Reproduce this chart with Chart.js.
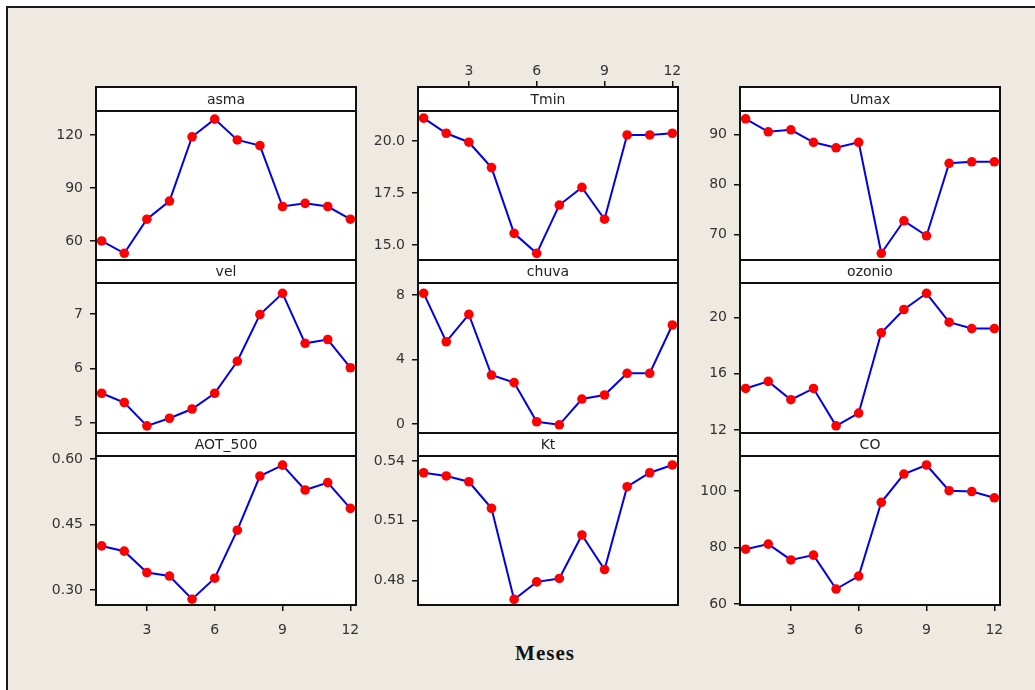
<!DOCTYPE html>
<html>
<head>
<meta charset="utf-8">
<title>Meses</title>
<script src="https://cdn.jsdelivr.net/npm/chart.js@4.4.1/dist/chart.umd.min.js"></script>
<style>
  html, body { margin: 0; padding: 0; background: #fff; }
  body { width: 1035px; height: 690px; position: relative; overflow: hidden; }
  #frame {
    position: absolute; left: 6px; top: 6px; width: 1040px; height: 700px;
    background: #eeeae1; border-left: 2px solid #1a1a1a; border-top: 2px solid #1a1a1a;
  }
  canvas.panel { position: absolute; }
  #xlabel {
    position: absolute; left: 445px; width: 200px; top: 641px; line-height: 24px;
    text-align: center; font: bold 21px "Liberation Serif", serif; letter-spacing: 1px; color: #111;
  }
</style>
</head>
<body>
<div id="frame"></div>
<div id="xlabel">Meses</div>
<script>
// data (monthly means)
const months = [1, 2, 3, 4, 5, 6, 7, 8, 9, 10, 11, 12];
const asma   = [60, 53, 72.3, 82.6, 119, 129, 117.2, 114, 79.5, 81.3, 79.5, 72.3];
const tmin   = [21.1, 20.37, 19.94, 18.72, 15.56, 14.6, 16.92, 17.77, 16.24, 20.29, 20.29, 20.37];
const umax   = [93.1, 90.5, 90.9, 88.4, 87.3, 88.4, 66.2, 72.7, 69.7, 84.2, 84.5, 84.5];
const vel    = [5.54, 5.37, 4.94, 5.08, 5.25, 5.54, 6.13, 6.99, 7.38, 6.46, 6.53, 6.01];
const chuva  = [8.12, 5.11, 6.81, 3.04, 2.57, 0.14, -0.05, 1.55, 1.8, 3.15, 3.15, 6.15];
const ozonio = [14.95, 15.45, 14.15, 14.95, 12.3, 13.2, 18.9, 20.55, 21.7, 19.65, 19.2, 19.2];
const aot500 = [0.401, 0.389, 0.340, 0.332, 0.279, 0.327, 0.437, 0.561, 0.586, 0.529, 0.546, 0.487];
const kt     = [0.5341, 0.5325, 0.5296, 0.5163, 0.4706, 0.4794, 0.4811, 0.5029, 0.4856, 0.5271, 0.5341, 0.538];
const co     = [79.4, 81.2, 75.6, 77.3, 65.3, 69.9, 96.0, 106.0, 109.2, 100.1, 99.8, 97.6];

const names  = ['asma', 'Tmin', 'Umax', 'vel', 'chuva', 'ozonio', 'AOT_500', 'Kt', 'CO'];
const series = [asma, tmin, umax, vel, chuva, ozonio, aot500, kt, co];

const xTicks = [3, 6, 9, 12];
const yTicks = [[60, 90, 120], [15, 17.5, 20], [70, 80, 90],
                [5, 6, 7], [0, 4, 8], [12, 16, 20],
                [0.30, 0.45, 0.60], [0.48, 0.51, 0.54], [60, 80, 100]];
const yDecimals = [0, 1, 0, 0, 0, 0, 2, 2, 0];
// value range of each plot area (top edge / bottom edge)
const yTop    = [133.6, 21.44, 94.66, 7.571, 8.76, 22.43, 0.6069, 0.5425, 112.39];
const yBottom = [49.2, 14.28, 64.86, 4.808, -0.56, 11.79, 0.2657, 0.4678, 59.65];

// where the month axis is shown (lattice style)
const xAxisSide = [null, 'top', null, null, null, null, 'bottom', null, 'bottom'];

// layout of the 3x3 lattice
const colLeft = [96, 418, 740];
const panelW = 260;
const rowTop = [87, 260, 433];
const stripH = [24, 23, 23];
const rowBottom = [260, 433, 605];
const marginL = 54, marginR = 6, marginV = 30;

const FONT = '"DejaVu Sans", Verdana, sans-serif';

const stripPlugin = {
    id: 'strip',
    beforeDraw(chart) {
        const a = chart.chartArea;
        const ctx = chart.ctx;
        ctx.save();
        ctx.fillStyle = '#fff';
        ctx.fillRect(a.left, a.top, a.width, a.height);
        ctx.restore();
    },
    afterDatasetsDraw(chart, args, opts) {
        const a = chart.chartArea;
        const ctx = chart.ctx;
        ctx.save();
        ctx.fillStyle = '#fff';
        ctx.fillRect(a.left, a.top, a.width, opts.height);
        ctx.strokeStyle = '#111';
        ctx.lineWidth = 2;
        ctx.strokeRect(a.left, a.top, a.width, a.height);
        ctx.beginPath();
        ctx.moveTo(a.left, a.top + opts.height);
        ctx.lineTo(a.right, a.top + opts.height);
        ctx.stroke();
        ctx.fillStyle = '#222';
        ctx.font = '14px ' + FONT;
        ctx.textAlign = 'center';
        ctx.textBaseline = 'middle';
        ctx.fillText(opts.title, (a.left + a.right) / 2, a.top + opts.height / 2 + 1);
        ctx.restore();
    }
};

series.forEach((vals, i) => {
    const col = i % 3, row = Math.floor(i / 3);
    const top = rowTop[row], bottom = rowBottom[row], sh = stripH[row];
    const plotH = bottom - top - sh;
    // extend the y range upward so the strip sits above the plot area
    const yMax = yTop[i] + (yTop[i] - yBottom[i]) * sh / plotH;

    const canvas = document.createElement('canvas');
    canvas.className = 'panel';
    canvas.width = panelW + marginL + marginR;
    canvas.height = bottom - top + 2 * marginV;
    canvas.style.left = (colLeft[col] - marginL) + 'px';
    canvas.style.top = (top - marginV) + 'px';
    document.body.appendChild(canvas);

    const side = xAxisSide[i];
    const dec = yDecimals[i];
    const tickList = yTicks[i];

    new Chart(canvas.getContext('2d'), {
        type: 'line',
        data: {
            datasets: [{
                data: months.map((m, k) => ({ x: m, y: vals[k] })),
                borderColor: '#0000ee',
                borderWidth: 2,
                pointRadius: 4.8,
                pointBackgroundColor: '#ff0000',
                pointBorderColor: '#ff0000',
                pointBorderWidth: 0,
                tension: 0
            }]
        },
        options: {
            responsive: false,
            animation: false,
            devicePixelRatio: 1,
            layout: {
                padding: {
                    left: 0,
                    right: marginR,
                    top: side === 'top' ? 0 : marginV,
                    bottom: side === 'bottom' ? 0 : marginV
                }
            },
            plugins: {
                legend: { display: false },
                tooltip: { enabled: false },
                strip: { title: names[i], height: sh }
            },
            scales: {
                x: {
                    type: 'linear',
                    position: side || 'bottom',
                    display: side !== null,
                    min: 0.75,
                    max: 12.25,
                    afterBuildTicks: axis => { axis.ticks = xTicks.map(v => ({ value: v })); },
                    afterFit: axis => {
                        axis.height = side ? marginV : 0;
                        axis.paddingLeft = 0;
                        axis.paddingRight = 0;
                    },
                    grid: { drawOnChartArea: false, drawTicks: true, tickLength: 6, color: '#111', lineWidth: 1.5 },
                    border: { display: false },
                    ticks: {
                        padding: side === 'top' ? 1 : 11,
                        color: '#333',
                        font: { family: FONT, size: 14 },
                        maxRotation: 0
                    }
                },
                y: {
                    min: yBottom[i],
                    max: yMax,
                    afterBuildTicks: axis => { axis.ticks = tickList.map(v => ({ value: v })); },
                    afterFit: axis => { axis.width = marginL; axis.paddingTop = 0; axis.paddingBottom = 0; },
                    grid: { drawOnChartArea: false, drawTicks: true, tickLength: 6, color: '#111', lineWidth: 1.5 },
                    border: { display: false },
                    ticks: {
                        padding: 7,
                        color: '#333',
                        font: { family: FONT, size: 14 },
                        callback: v => Number(v).toFixed(dec)
                    }
                }
            }
        },
        plugins: [stripPlugin]
    });
});
</script>
</body>
</html>
